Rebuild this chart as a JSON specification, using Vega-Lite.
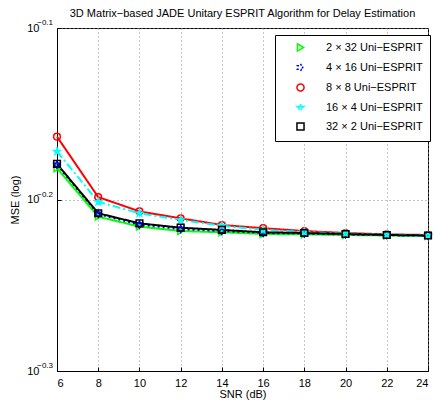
{
  "$schema": "https://vega.github.io/schema/vega-lite/v6.json",
  "width": 371,
  "height": 343,
  "autosize": {"type": "none"},
  "padding": {"left": 57, "top": 28, "right": 7, "bottom": 38},
  "title": {
    "text": "3D Matrix−based JADE Unitary ESPRIT Algorithm for Delay Estimation",
    "fontSize": 11,
    "fontWeight": "normal",
    "color": "black",
    "offset": 0
  },
  "data": {
    "values": [
      {"series": "2 × 32 Uni−ESPRIT", "snr": 6, "mse": 0.658},
      {"series": "2 × 32 Uni−ESPRIT", "snr": 8, "mse": 0.6166},
      {"series": "2 × 32 Uni−ESPRIT", "snr": 10, "mse": 0.6084},
      {"series": "2 × 32 Uni−ESPRIT", "snr": 12, "mse": 0.6048},
      {"series": "2 × 32 Uni−ESPRIT", "snr": 14, "mse": 0.6038},
      {"series": "2 × 32 Uni−ESPRIT", "snr": 16, "mse": 0.6024},
      {"series": "2 × 32 Uni−ESPRIT", "snr": 18, "mse": 0.6021},
      {"series": "2 × 32 Uni−ESPRIT", "snr": 20, "mse": 0.6016},
      {"series": "2 × 32 Uni−ESPRIT", "snr": 22, "mse": 0.6012},
      {"series": "2 × 32 Uni−ESPRIT", "snr": 24, "mse": 0.6008},
      {"series": "4 × 16 Uni−ESPRIT", "snr": 6, "mse": 0.661},
      {"series": "4 × 16 Uni−ESPRIT", "snr": 8, "mse": 0.6188},
      {"series": "4 × 16 Uni−ESPRIT", "snr": 10, "mse": 0.61},
      {"series": "4 × 16 Uni−ESPRIT", "snr": 12, "mse": 0.6064},
      {"series": "4 × 16 Uni−ESPRIT", "snr": 14, "mse": 0.6048},
      {"series": "4 × 16 Uni−ESPRIT", "snr": 16, "mse": 0.6032},
      {"series": "4 × 16 Uni−ESPRIT", "snr": 18, "mse": 0.6027},
      {"series": "4 × 16 Uni−ESPRIT", "snr": 20, "mse": 0.602},
      {"series": "4 × 16 Uni−ESPRIT", "snr": 22, "mse": 0.6014},
      {"series": "4 × 16 Uni−ESPRIT", "snr": 24, "mse": 0.601},
      {"series": "8 × 8 Uni−ESPRIT", "snr": 6, "mse": 0.6865},
      {"series": "8 × 8 Uni−ESPRIT", "snr": 8, "mse": 0.633},
      {"series": "8 × 8 Uni−ESPRIT", "snr": 10, "mse": 0.621},
      {"series": "8 × 8 Uni−ESPRIT", "snr": 12, "mse": 0.6152},
      {"series": "8 × 8 Uni−ESPRIT", "snr": 14, "mse": 0.6097},
      {"series": "8 × 8 Uni−ESPRIT", "snr": 16, "mse": 0.6071},
      {"series": "8 × 8 Uni−ESPRIT", "snr": 18, "mse": 0.6048},
      {"series": "8 × 8 Uni−ESPRIT", "snr": 20, "mse": 0.6032},
      {"series": "8 × 8 Uni−ESPRIT", "snr": 22, "mse": 0.6021},
      {"series": "8 × 8 Uni−ESPRIT", "snr": 24, "mse": 0.6016},
      {"series": "16 × 4 Uni−ESPRIT", "snr": 6, "mse": 0.673},
      {"series": "16 × 4 Uni−ESPRIT", "snr": 8, "mse": 0.629},
      {"series": "16 × 4 Uni−ESPRIT", "snr": 10, "mse": 0.6194},
      {"series": "16 × 4 Uni−ESPRIT", "snr": 12, "mse": 0.6138},
      {"series": "16 × 4 Uni−ESPRIT", "snr": 14, "mse": 0.6091},
      {"series": "16 × 4 Uni−ESPRIT", "snr": 16, "mse": 0.6057},
      {"series": "16 × 4 Uni−ESPRIT", "snr": 18, "mse": 0.604},
      {"series": "16 × 4 Uni−ESPRIT", "snr": 20, "mse": 0.6027},
      {"series": "16 × 4 Uni−ESPRIT", "snr": 22, "mse": 0.6018},
      {"series": "16 × 4 Uni−ESPRIT", "snr": 24, "mse": 0.6012},
      {"series": "32 × 2 Uni−ESPRIT", "snr": 6, "mse": 0.6618},
      {"series": "32 × 2 Uni−ESPRIT", "snr": 8, "mse": 0.6194},
      {"series": "32 × 2 Uni−ESPRIT", "snr": 10, "mse": 0.6111},
      {"series": "32 × 2 Uni−ESPRIT", "snr": 12, "mse": 0.6075},
      {"series": "32 × 2 Uni−ESPRIT", "snr": 14, "mse": 0.6057},
      {"series": "32 × 2 Uni−ESPRIT", "snr": 16, "mse": 0.6038},
      {"series": "32 × 2 Uni−ESPRIT", "snr": 18, "mse": 0.6032},
      {"series": "32 × 2 Uni−ESPRIT", "snr": 20, "mse": 0.6024},
      {"series": "32 × 2 Uni−ESPRIT", "snr": 22, "mse": 0.6016},
      {"series": "32 × 2 Uni−ESPRIT", "snr": 24, "mse": 0.6012}
    ]
  },
  "layer": [
    {
      "mark": {"type": "line", "strokeWidth": 2},
      "encoding": {
        "x": {
          "field": "snr",
          "type": "quantitative",
          "scale": {"domain": [6, 24], "nice": false},
          "axis": {
            "values": [6, 8, 10, 12, 14, 16, 18, 20, 22, 24],
            "grid": true,
            "title": "SNR (dB)",
            "labelPadding": 10,
            "titlePadding": 0
          }
        },
        "y": {
          "field": "mse",
          "type": "quantitative",
          "scale": {"type": "log", "domain": [0.501187, 0.794328], "nice": false},
          "axis": {
            "values": [0.501187, 0.630957, 0.794328],
            "labelExpr": "'10'",
            "grid": true,
            "title": "MSE (log)",
            "labelPadding": 22,
            "titlePadding": 6
          }
        },
        "color": {
          "field": "series",
          "type": "nominal",
          "scale": {
            "domain": ["2 × 32 Uni−ESPRIT", "4 × 16 Uni−ESPRIT", "8 × 8 Uni−ESPRIT", "16 × 4 Uni−ESPRIT", "32 × 2 Uni−ESPRIT"],
            "range": ["#00ff00", "#0000ff", "#ff0000", "#00ffff", "#000000"]
          },
          "legend": {
            "title": null,
            "orient": "none",
            "legendX": 218,
            "legendY": 7,
            "strokeColor": "black",
            "fillColor": "white",
            "padding": 7,
            "labelFontSize": 11,
            "labelColor": "black",
            "symbolSize": 50,
            "symbolStrokeWidth": 1.5,
            "symbolOffset": 13,
            "labelOffset": 20,
            "rowPadding": 5
          }
        },
        "strokeDash": {
          "field": "series",
          "type": "nominal",
          "scale": {
            "domain": ["2 × 32 Uni−ESPRIT", "4 × 16 Uni−ESPRIT", "8 × 8 Uni−ESPRIT", "16 × 4 Uni−ESPRIT", "32 × 2 Uni−ESPRIT"],
            "range": [[1, 0], [2, 3], [1, 0], [8, 3, 2, 3], [1, 0]]
          },
          "legend": null
        }
      }
    },
    {
      "mark": {"type": "point", "size": 45, "strokeWidth": 1.5, "opacity": 1},
      "encoding": {
        "x": {"field": "snr", "type": "quantitative"},
        "y": {"field": "mse", "type": "quantitative"},
        "color": {"field": "series", "type": "nominal"},
        "shape": {
          "field": "series",
          "type": "nominal",
          "scale": {
            "domain": ["2 × 32 Uni−ESPRIT", "4 × 16 Uni−ESPRIT", "8 × 8 Uni−ESPRIT", "16 × 4 Uni−ESPRIT", "32 × 2 Uni−ESPRIT"],
            "range": [
              "triangle-right",
              "M0,-1L0.289,-0.5L0.866,-0.5L0.577,0L0.866,0.5L0.289,0.5L0,1L-0.289,0.5L-0.866,0.5L-0.577,0L-0.866,-0.5L-0.289,-0.5Z",
              "circle",
              "M0,-1L0.225,-0.309L0.951,-0.309L0.363,0.118L0.588,0.809L0,0.382L-0.588,0.809L-0.363,0.118L-0.951,-0.309L-0.225,-0.309Z",
              "square"
            ]
          }
        }
      }
    },
    {
      "data": {
        "values": [
          {"v": 0.794328, "e": "−0.1"},
          {"v": 0.630957, "e": "−0.2"},
          {"v": 0.501187, "e": "−0.3"}
        ]
      },
      "mark": {"type": "text", "align": "right", "baseline": "middle", "dx": -4, "dy": -5, "fontSize": 8, "color": "black"},
      "encoding": {
        "x": {"datum": 6, "type": "quantitative"},
        "y": {"field": "v", "type": "quantitative"},
        "text": {"field": "e"}
      }
    }
  ],
  "config": {
    "font": "Liberation Sans",
    "view": {"stroke": "black"},
    "axis": {
      "labelFontSize": 11,
      "labelColor": "black",
      "titleFontSize": 11,
      "titleFontWeight": "normal",
      "titleColor": "black",
      "domainColor": "black",
      "tickColor": "black",
      "tickSize": -4,
      "gridColor": "#8c8c8c",
      "gridDash": [1, 3]
    }
  }
}
